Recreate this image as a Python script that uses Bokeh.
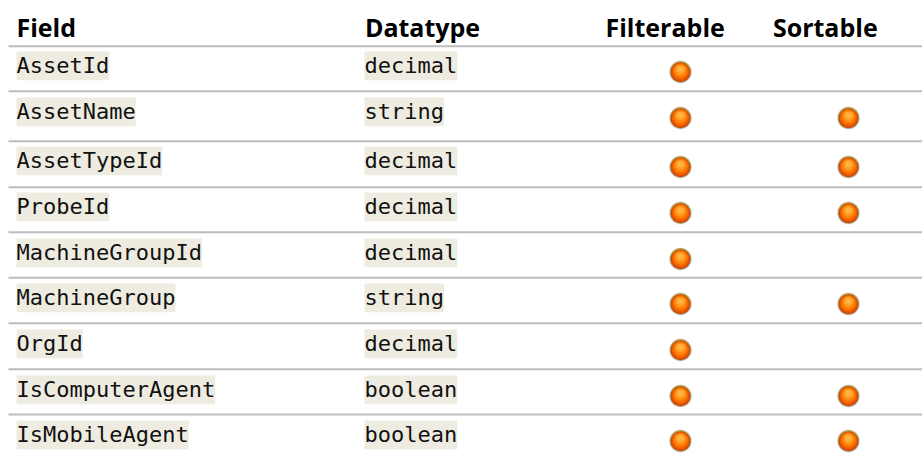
from bokeh.plotting import figure
from bokeh.models import Range1d
from bokeh.core.properties import value
from bokeh.embed import file_html
from bokeh.resources import INLINE

# --- table content ---
headers = ["Field", "Datatype", "Filterable", "Sortable"]
fields = ["AssetId", "AssetName", "AssetTypeId", "ProbeId", "MachineGroupId",
          "MachineGroup", "OrgId", "IsComputerAgent", "IsMobileAgent"]
datatypes = ["decimal", "string", "decimal", "decimal", "decimal",
             "string", "decimal", "boolean", "boolean"]
filterable = [True, True, True, True, True, True, True, True, True]
sortable = [False, True, True, True, False, True, False, True, True]

# --- layout (page pixels) ---
W, H = 922, 453
LEFT, TOP = 0, 0
RULE_LEFT = 8
rule_y = [45.7, 90.7, 140.7, 186.7, 231.7, 277.3, 322.7, 368.7, 414.0]
row_top = [51, 97, 146, 192, 238, 283, 329, 375, 420]
CHAR_W = 13.25
CODE_H = 28.8
COL_FIELD, COL_TYPE, COL_FILTER, COL_SORT = 16, 364, 680, 848
HEADER_X = [16.0, 364.4, 605.0, 772.4]
HEADER_BASE = 26.5
CODE_BASE = 14

p = figure(width=W, height=H, output_backend="svg", toolbar_location=None,
           x_range=Range1d(LEFT, LEFT + W), y_range=Range1d(TOP + H, TOP),
           min_border=0, outline_line_color=None, background_fill_color="white")
p.axis.visible = False
p.grid.visible = False

# rules
p.segment(x0=[RULE_LEFT] * len(rule_y), x1=[LEFT + W] * len(rule_y), y0=rule_y, y1=rule_y,
          line_color="#bdbdbd", line_width=2)

# header
p.text(x=HEADER_X, y=[HEADER_BASE] * 4, text=headers, text_font=value("Open Sans"),
       text_font_style="bold", text_font_size="25px", text_color="#000000",
       text_align="left", text_baseline="alphabetic")

# code chips and text
for col, words in ((COL_FIELD, fields), (COL_TYPE, datatypes)):
    p.quad(left=[col] * len(words), right=[col + len(w) * CHAR_W for w in words],
           top=row_top, bottom=[t + CODE_H for t in row_top],
           fill_color="#eeece1", line_color=None)
    p.text(x=[col] * len(words), y=[t + CODE_BASE for t in row_top], text=words,
           text_font=value("DejaVu Sans Mono"), text_font_size="22px",
           text_color="#111111", text_align="left", text_baseline="alphabetic")

# spheres
sx, sy = [], []
for t, f, s in zip(row_top, filterable, sortable):
    if f:
        sx.append(COL_FILTER); sy.append(t + 20.5)
    if s:
        sx.append(COL_SORT); sy.append(t + 20.5)

layers = [  # radius, y shift, colour, alpha
    (11.4, 0.0, "#b8a890", 0.35),
    (10.8, 0.0, "#a08a70", 0.75),
    (10.2, -0.5, "#b89a3c", 1.0),
    (9.8, 0.4, "#b04a18", 1.0),
    (9.2, 0.2, "#e04e00", 1.0),
    (8.6, -0.3, "#ee5a00", 1.0),
    (7.8, -0.8, "#f76a00", 1.0),
    (6.8, -1.3, "#fd7c06", 1.0),
    (5.7, -1.8, "#ff8e14", 1.0),
    (4.5, -2.3, "#ffa028", 1.0),
    (3.0, -2.8, "#ffb244", 1.0),
]
for r, dy, c, a in layers:
    p.scatter(x=sx, y=[y + dy for y in sy], size=2 * r, marker="circle",
              fill_color=c, fill_alpha=a, line_color=None)

open("out.html", "w").write(file_html(p, INLINE))
